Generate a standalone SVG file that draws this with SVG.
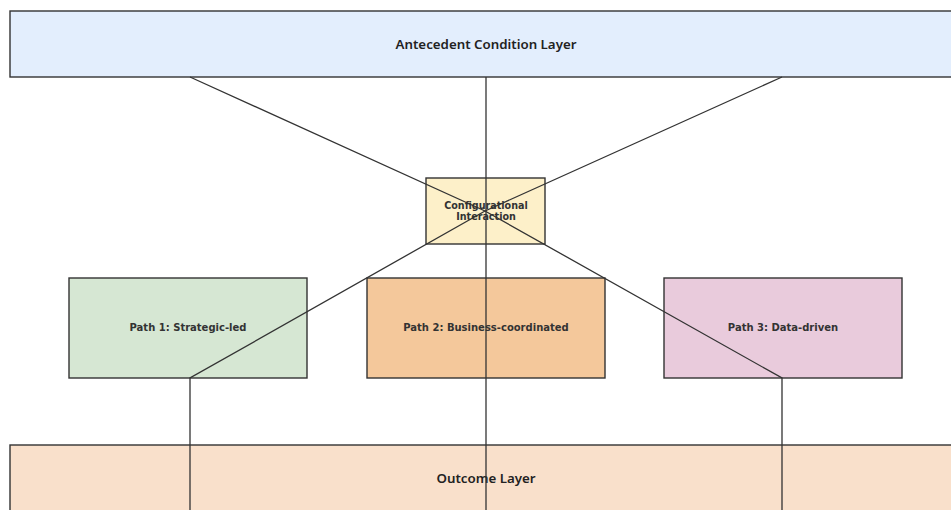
<svg xmlns="http://www.w3.org/2000/svg" width="951" height="510" viewBox="0 0 951 510">
<style>
.box{stroke:#333;stroke-width:1.4}
.layer{font-family:"Noto Sans","DejaVu Sans",sans-serif;font-size:13.3px;font-weight:600;fill:#222;text-anchor:middle;dominant-baseline:central}
.lbl{font-family:"DejaVu Sans",sans-serif;font-size:10px;font-weight:bold;fill:#333;text-anchor:middle;dominant-baseline:central}
.small{font-size:9.6px}
.edge{fill:none;stroke:#333;stroke-width:1.3}
</style>
<rect width="951" height="510" fill="#ffffff"/>
<g id="antecedent">
<rect class="box" x="10" y="11" width="950" height="66" fill="#e3eefd"/>
<text class="layer" x="486" y="43.5">Antecedent Condition Layer</text>
</g>
<g id="outcome">
<rect class="box" x="10" y="445" width="950" height="80" fill="#f9e0cb"/>
<text class="layer" x="486" y="477.5">Outcome Layer</text>
</g>
<g id="config">
<rect class="box" x="426" y="178" width="119" height="66" fill="#fdf0c9"/>
<text class="lbl small" x="486" y="205">Configurational</text>
<text class="lbl small" x="486" y="216">Interaction</text>
</g>
<g id="path1">
<rect class="box" x="69" y="278" width="238" height="100" fill="#d6e7d3"/>
<text class="lbl" x="188" y="327">Path 1: Strategic-led</text>
</g>
<g id="path2">
<rect class="box" x="367" y="278" width="238" height="100" fill="#f4c89b"/>
<text class="lbl" x="486" y="327">Path 2: Business-coordinated</text>
</g>
<g id="path3">
<rect class="box" x="664" y="278" width="238" height="100" fill="#e9cbdc"/>
<text class="lbl" x="783" y="327">Path 3: Data-driven</text>
</g>
<g id="connectors">
<polyline class="edge" points="190,77 485,211 782,378 782,510"/>
<polyline class="edge" points="782,77 485,211 190,378 190,510"/>
<polyline class="edge" points="486,77 486,510"/>
</g>
</svg>
